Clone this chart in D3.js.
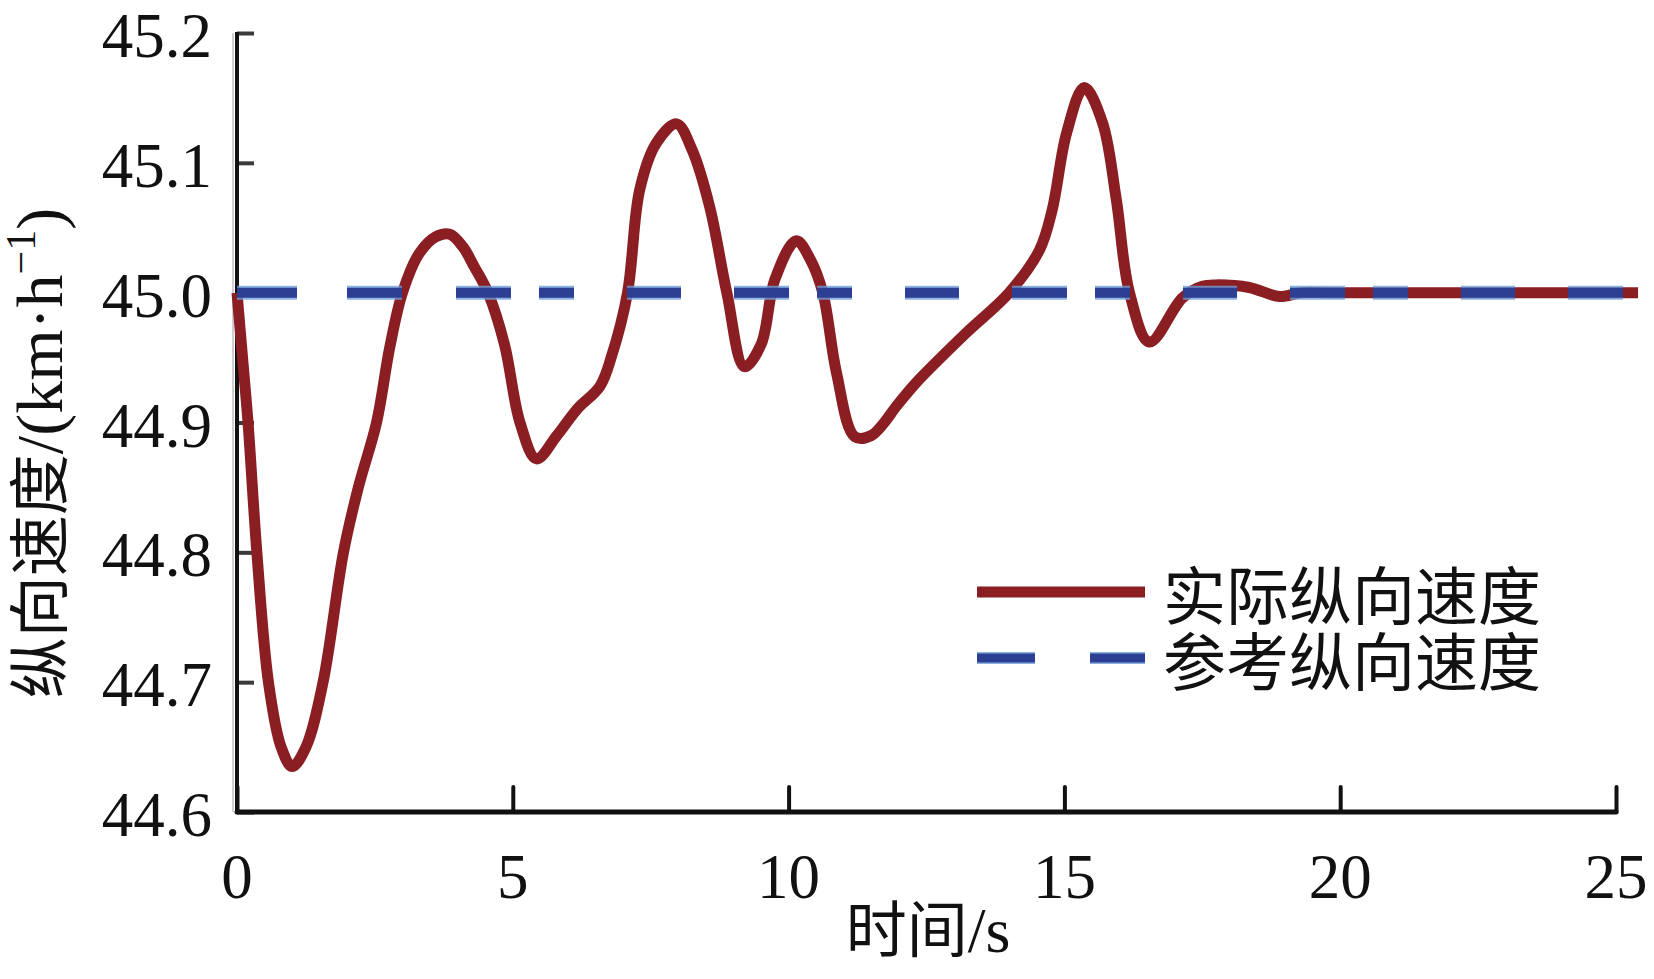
<!DOCTYPE html>
<html>
<head>
<meta charset="utf-8">
<script src="https://cdn.jsdelivr.net/npm/d3@7"></script>
<style>
  html, body { margin: 0; padding: 0; background: #fff; }
  svg { display: block; }
</style>
</head>
<body>
<svg id="chart" width="1654" height="979"></svg>
<script>
// ---- data ----
const timeS = [0, 0.1, 0.2, 0.36, 0.57, 0.8, 1.0, 1.25, 1.56, 1.93, 2.2, 2.53, 2.77, 3.0, 3.3, 3.6, 3.86, 4.1, 4.3, 4.55, 4.85, 5.13, 5.43, 5.8, 6.16, 6.58, 6.79, 7.08, 7.3, 7.6, 7.97, 8.25, 8.57, 8.88, 9.2, 9.5, 9.75, 10.14, 10.4, 10.62, 10.87, 11.2, 11.5, 12.0, 12.32, 13.22, 14.0, 14.55, 14.78, 15.04, 15.36, 15.69, 15.94, 16.18, 16.54, 17.14, 17.5, 17.75, 18.35, 18.9, 19.3, 19.8, 21, 23, 25.4];
const actualSpeed = [45.0, 44.95, 44.9, 44.8, 44.7, 44.65, 44.635, 44.65, 44.7, 44.8, 44.85, 44.9, 44.958, 45.0, 45.03, 45.043, 45.045, 45.035, 45.02, 45.0, 44.96, 44.9, 44.872, 44.89, 44.91, 44.928, 44.951, 45.0, 45.079, 45.115, 45.13, 45.11, 45.066, 45.0, 44.943, 44.96, 45.01, 45.04, 45.025, 45.0, 44.938, 44.889, 44.89, 44.915, 44.931, 44.969, 45.0, 45.033, 45.064, 45.123, 45.158, 45.131, 45.072, 45.0, 44.962, 44.996, 45.005, 45.006, 45.004, 44.997, 45.0, 45.0, 45.0, 45.0, 45.0];
const refTime = [0, 25.4];
const refSpeed = [45.0, 45.0];
const xTicks = [0, 5, 10, 15, 20, 25];
const yTicks = [44.6, 44.7, 44.8, 44.9, 45.0, 45.1, 45.2];
const xTickLabels = ["0", "5", "10", "15", "20", "25"];
const yTickLabels = ["44.6", "44.7", "44.8", "44.9", "45.0", "45.1", "45.2"];
const legendLabels = ["实际纵向速度", "参考纵向速度"];

// ---- layout ----
const svg = d3.select("#chart");
const X0 = 237, X1 = 1616, Y0 = 812, Y1 = 33;
const x = d3.scaleLinear().domain([0, 25]).range([X0, X1]);
const y = d3.scaleLinear().domain([44.6, 45.2]).range([Y0, Y1]);
const serif = "'Liberation Serif', 'Times New Roman', serif";
const cjk = "'Noto Sans CJK SC', sans-serif";
const RED = "#8b1e23", BLUE = "#2c3f93", HALO = "#6f9fd8";

// y axis
const yAxis = d3.axisRight(y).tickValues(yTicks).tickSize(17).tickFormat("");
const gy = svg.append("g").attr("transform", `translate(${X0},0)`).call(yAxis);
gy.select(".domain").remove();
gy.selectAll(".tick line").attr("stroke", "#3a3a3a").attr("stroke-width", 4);
svg.append("line").attr("x1", X0).attr("x2", X0).attr("y1", Y1 - 1).attr("y2", Y0)
  .attr("stroke", "#111").attr("stroke-width", 4);
svg.append("line").attr("x1", X0 - 4).attr("x2", X0 - 4).attr("y1", Y1).attr("y2", Y0)
  .attr("stroke", "#cfcfcf").attr("stroke-width", 2);

// y tick labels
svg.append("g").selectAll("text").data(yTicks).join("text")
  .attr("x", 212).attr("y", d => y(d) + 24)
  .attr("text-anchor", "end")
  .attr("font-family", serif).attr("font-size", 63).attr("fill", "#111")
  .text((d, i) => yTickLabels[i]);

// x axis
const xAxis = d3.axisTop(x).tickValues(xTicks).tickSize(25).tickFormat("");
const gx = svg.append("g").attr("transform", `translate(0,${Y0})`).call(xAxis);
gx.select(".domain").remove();
gx.selectAll(".tick line").attr("stroke", "#111").attr("stroke-width", 4).attr("stroke-linecap", "round");
svg.append("line").attr("x1", X0).attr("x2", X1).attr("y1", Y0).attr("y2", Y0)
  .attr("stroke", "#111").attr("stroke-width", 5).attr("stroke-linecap", "round");

svg.append("g").selectAll("text").data(xTicks).join("text")
  .attr("x", d => x(d)).attr("y", 898)
  .attr("text-anchor", "middle")
  .attr("font-family", serif).attr("font-size", 63).attr("fill", "#111")
  .text((d, i) => xTickLabels[i]);

// x title
const xt = svg.append("text").attr("x", 928).attr("y", 952).attr("text-anchor", "middle")
  .attr("font-size", 61).attr("fill", "#111");
xt.append("tspan").attr("font-family", cjk).text("时间");
xt.append("tspan").attr("font-family", serif).attr("font-size", 64).text("/s");

// y title
const yt = svg.append("text")
  .attr("transform", "translate(62,453) rotate(-90)")
  .attr("text-anchor", "middle").attr("fill", "#111").attr("font-size", 61);
yt.append("tspan").attr("font-family", cjk).text("纵向速度");
yt.append("tspan").attr("font-family", serif).attr("font-size", 66).text("/(km·h");
yt.append("tspan").attr("font-family", serif).attr("font-size", 42).attr("dy", -27).text("−1");
yt.append("tspan").attr("font-family", serif).attr("font-size", 66).attr("dy", 27).text(")");

// lines
const actual = timeS.map((t, i) => ({ t, v: actualSpeed[i] }));
const ref = refTime.map((t, i) => ({ t, v: refSpeed[i] }));
const line = d3.line().x(d => x(d.t)).y(d => y(d.v)).curve(d3.curveCatmullRom.alpha(0.5));
const straight = d3.line().x(d => x(d.t)).y(d => y(d.v));

svg.append("path").datum(actual).attr("d", line)
  .attr("fill", "none").attr("stroke", RED).attr("stroke-width", 11)
  .attr("stroke-linejoin", "round");

const unit = [55, 28, 35, 53, 54, 53];
const dash = [60, 50, 55, 54].concat(...d3.range(6).map(() => unit)).join(",");
svg.append("path").datum(ref).attr("d", straight)
  .attr("fill", "none").attr("stroke", HALO).attr("stroke-width", 14)
  .attr("stroke-dasharray", dash).attr("opacity", 0.8);
svg.append("path").datum(ref).attr("d", straight)
  .attr("fill", "none").attr("stroke", BLUE).attr("stroke-width", 10)
  .attr("stroke-dasharray", dash);

// legend
const lg = svg.append("g");
lg.append("line").attr("x1", 977).attr("x2", 1145).attr("y1", 592).attr("y2", 592)
  .attr("stroke", RED).attr("stroke-width", 11);
lg.append("line").attr("x1", 977).attr("x2", 1145).attr("y1", 658).attr("y2", 658)
  .attr("stroke", HALO).attr("stroke-width", 12).attr("stroke-dasharray", "58,55").attr("opacity", 0.8);
lg.append("line").attr("x1", 977).attr("x2", 1145).attr("y1", 658).attr("y2", 658)
  .attr("stroke", BLUE).attr("stroke-width", 9).attr("stroke-dasharray", "58,55");
lg.selectAll("text").data(legendLabels).join("text")
  .attr("x", 1163).attr("y", (d, i) => 619 + i * 66)
  .attr("font-family", cjk).attr("font-size", 63).attr("fill", "#111")
  .text(d => d);
</script>
</body>
</html>
